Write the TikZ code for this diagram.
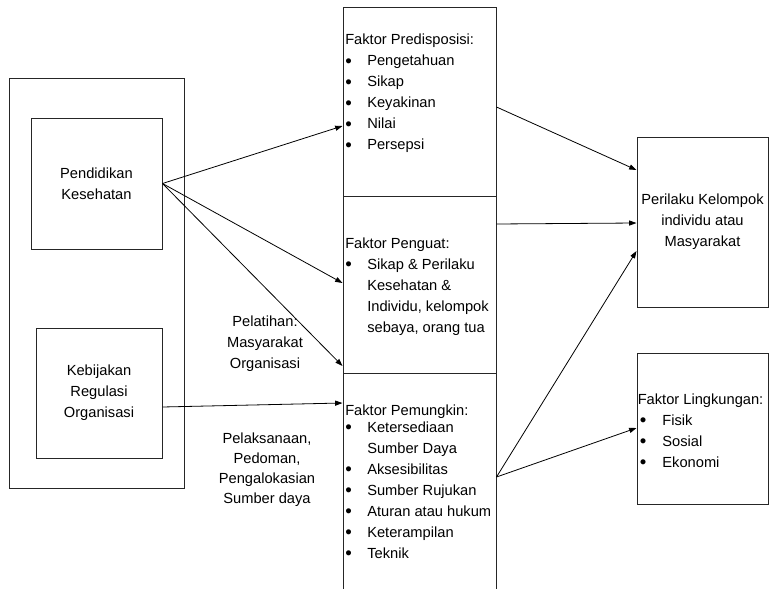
\documentclass[tikz,border=0pt]{standalone}
\usepackage{fontspec}
\setmainfont{Liberation Sans}
\usetikzlibrary{arrows.meta}
\newcommand{\bigbul}{\raisebox{-1pt}{\fontsize{14}{14}\selectfont\textbullet}}
\newcommand{\bul}{\makebox[16.5pt][l]{\bigbul}}
\newcommand{\hng}{\hspace*{16.5pt}}
\newcommand{\bulL}{\makebox[18.5pt][l]{\hspace*{1.5pt}\bigbul}}
\tikzset{
  boxr/.style={draw=black!85, line width=0.75pt, inner sep=0pt},
  lst/.style={inner sep=0pt, anchor=base west, font=\fontsize{11}{15.75}\selectfont, text=black},
  lbl/.style={inner sep=0pt, align=center, font=\fontsize{11}{15.75}\selectfont, text=black},
  arr/.style={draw=black, line width=0.6pt, -{Triangle[length=5.5pt,width=3.8pt]}}
}
\begin{document}
\begin{tikzpicture}[x=0.75pt,y=-0.75pt]
\useasboundingbox (0,0) rectangle (772,589);
\clip (0,0) rectangle (772,589);
% left column
\node[boxr, minimum width=131.25pt, minimum height=307.5pt] (outer) at (96.5,283) {};
\node[boxr, lbl, minimum width=98.25pt, minimum height=98.25pt] (pend) at (96.5,183.5) {Pendidikan\\Kesehatan};
\node[boxr, lbl, minimum width=94.5pt, minimum height=97.5pt] (keb) at (99,393) {Kebijakan\\Regulasi\\Organisasi};
% middle column
\node[boxr, minimum width=114.75pt, minimum height=141.75pt] (pred) at (419.5,101.5) {};
\node[boxr, minimum width=114.75pt, minimum height=132.75pt] (peng) at (419.5,284.5) {};
\node[boxr, minimum width=114.75pt, minimum height=185.25pt] (pemu) at (419.5,496.5) {};
% right column
\node[boxr, lbl, minimum width=98.25pt, minimum height=127.5pt] (peri) at (702.5,222) {Perilaku Kelompok\\individu atau\\Masyarakat};
\node[boxr, minimum width=98.25pt, minimum height=113.25pt] (ling) at (702.5,428.5) {};
% lists
\node[lst] (tpred) at (345,45) {\begin{tabular}[t]{@{}l@{}}Faktor Predisposisi:\\
\bul Pengetahuan\\ \bul Sikap\\ \bul Keyakinan\\ \bul Nilai\\ \bul Persepsi\end{tabular}};
\node[lst] (tpeng) at (345,248) {\begin{tabular}[t]{@{}l@{}}Faktor Penguat:\\
\bul Sikap \& Perilaku\\ \hng Kesehatan \&\\ \hng Individu, kelompok\\ \hng sebaya, orang tua\end{tabular}};
\node[lst] (tpemu) at (345,415) {\begin{tabular}[t]{@{}l@{}}Faktor Pemungkin:\\[-3pt]
\bul Ketersediaan\\ \hng Sumber Daya\\ \bul Aksesibilitas\\ \bul Sumber Rujukan\\ \bul Aturan atau hukum\\ \bul Keterampilan\\ \bul Teknik\end{tabular}};
\node[lst] (tling) at (637.5,404) {\begin{tabular}[t]{@{}l@{}}Faktor Lingkungan:\\
\bulL Fisik\\ \bulL Sosial\\ \bulL Ekonomi\end{tabular}};
% free labels
\node[lbl] (pelat) at (265,344) {Pelatihan:\\Masyarakat\\Organisasi};
\node[lbl, font=\fontsize{11}{15}\selectfont] (pelak) at (267,470) {Pelaksanaan,\\Pedoman,\\Pengalokasian\\Sumber daya};
% connectors
\draw[arr] (pend.east) -- (pred.west |- 0,126);
\draw[arr] (pend.east) -- (peng.west |- 0,283);
\draw[arr] (pend.east) -- (peng.west |- 0,366);
\draw[arr] (keb.east |- 0,407) -- (pemu.west |- 0,403);
\draw[arr] (pred.east |- 0,107) -- (peri.west |- 0,170);
\draw[arr] (peng.east |- 0,224) -- (peri.west |- 0,223);
\draw[arr] (pemu.east |- 0,477) -- (peri.west |- 0,251);
\draw[arr] (pemu.east |- 0,477) -- (ling.west |- 0,428);
\end{tikzpicture}
\end{document}
